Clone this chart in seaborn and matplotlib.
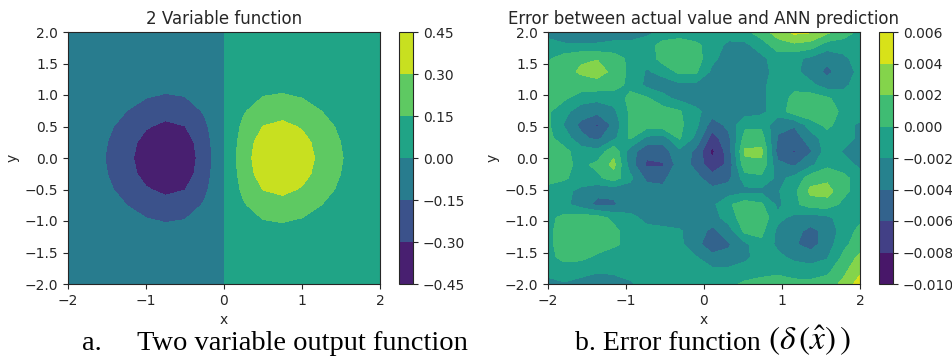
import numpy as np
import matplotlib
matplotlib.use("Agg")
import matplotlib.pyplot as plt
import seaborn as sns

# --- panel a: the two variable function, sampled on a 17 x 17 grid ---
func_x = [-2.0, -1.75, -1.5, -1.25, -1.0, -0.75, -0.5, -0.25, 0.0,
          0.25, 0.5, 0.75, 1.0, 1.25, 1.5, 1.75, 2.0]
func_y = [-2.0, -1.75, -1.5, -1.25, -1.0, -0.75, -0.5, -0.25, 0.0,
          0.25, 0.5, 0.75, 1.0, 1.25, 1.5, 1.75, 2.0]
# rows run from y = -2 (first) to y = 2 (last)
func_z = [
    [-0.001, -0.002, -0.003, -0.005, -0.007, -0.008, -0.007, -0.004, 0.0, 0.004, 0.007, 0.008, 0.007, 0.005, 0.003, 0.002, 0.001],
    [-0.002, -0.004, -0.007, -0.012, -0.017, -0.020, -0.018, -0.011, 0.0, 0.011, 0.018, 0.020, 0.017, 0.012, 0.007, 0.004, 0.002],
    [-0.004, -0.009, -0.017, -0.028, -0.039, -0.045, -0.041, -0.025, 0.0, 0.025, 0.041, 0.045, 0.039, 0.028, 0.017, 0.009, 0.004],
    [-0.008, -0.017, -0.033, -0.055, -0.077, -0.089, -0.082, -0.049, 0.0, 0.049, 0.082, 0.089, 0.077, 0.055, 0.033, 0.017, 0.008],
    [-0.014, -0.030, -0.058, -0.096, -0.135, -0.157, -0.143, -0.086, 0.0, 0.086, 0.143, 0.157, 0.135, 0.096, 0.058, 0.030, 0.014],
    [-0.021, -0.047, -0.090, -0.149, -0.210, -0.243, -0.222, -0.134, 0.0, 0.134, 0.222, 0.243, 0.210, 0.149, 0.090, 0.047, 0.021],
    [-0.029, -0.064, -0.123, -0.204, -0.287, -0.333, -0.303, -0.183, 0.0, 0.183, 0.303, 0.333, 0.287, 0.204, 0.123, 0.064, 0.029],
    [-0.035, -0.077, -0.148, -0.246, -0.346, -0.401, -0.366, -0.221, 0.0, 0.221, 0.366, 0.401, 0.346, 0.246, 0.148, 0.077, 0.035],
    [-0.037, -0.082, -0.158, -0.262, -0.368, -0.427, -0.389, -0.235, 0.0, 0.235, 0.389, 0.427, 0.368, 0.262, 0.158, 0.082, 0.037],
    [-0.035, -0.077, -0.148, -0.246, -0.346, -0.401, -0.366, -0.221, 0.0, 0.221, 0.366, 0.401, 0.346, 0.246, 0.148, 0.077, 0.035],
    [-0.029, -0.064, -0.123, -0.204, -0.287, -0.333, -0.303, -0.183, 0.0, 0.183, 0.303, 0.333, 0.287, 0.204, 0.123, 0.064, 0.029],
    [-0.021, -0.047, -0.090, -0.149, -0.210, -0.243, -0.222, -0.134, 0.0, 0.134, 0.222, 0.243, 0.210, 0.149, 0.090, 0.047, 0.021],
    [-0.014, -0.030, -0.058, -0.096, -0.135, -0.157, -0.143, -0.086, 0.0, 0.086, 0.143, 0.157, 0.135, 0.096, 0.058, 0.030, 0.014],
    [-0.008, -0.017, -0.033, -0.055, -0.077, -0.089, -0.082, -0.049, 0.0, 0.049, 0.082, 0.089, 0.077, 0.055, 0.033, 0.017, 0.008],
    [-0.004, -0.009, -0.017, -0.028, -0.039, -0.045, -0.041, -0.025, 0.0, 0.025, 0.041, 0.045, 0.039, 0.028, 0.017, 0.009, 0.004],
    [-0.002, -0.004, -0.007, -0.012, -0.017, -0.020, -0.018, -0.011, 0.0, 0.011, 0.018, 0.020, 0.017, 0.012, 0.007, 0.004, 0.002],
    [-0.001, -0.002, -0.003, -0.005, -0.007, -0.008, -0.007, -0.004, 0.0, 0.004, 0.007, 0.008, 0.007, 0.005, 0.003, 0.002, 0.001],
]
func_levels = [-0.45, -0.30, -0.15, 0.0, 0.15, 0.30, 0.45]

# --- panel b: error between actual value and ANN prediction, 20 x 20 grid ---
err_x = np.linspace(-2, 2, 20)
err_y = np.linspace(2, -2, 20)
# values in units of 1e-3, rows run from y = 2 (first) to y = -2 (last)
err_milli = [
    [-2.5, -3.0, -3.0, -3.0, -3.0, -3.0, -2.5, -1.5, -1.0, -1.5, -1.5, -1.0, -0.5, 1.0, 3.0, 4.5, 4.2, 2.5, 1.0, -0.5],
    [-1.5, -1.8, -1.8, -1.8, -1.5, -1.5, -1.0, 0.8, 1.0, 0.5, -1.0, -2.5, -2.5, -1.0, 1.0, 1.5, 1.0, -1.0, -1.0, -0.5],
    [-0.3, 1.0, 1.8, 1.9, 1.0, -0.5, -1.5, 1.0, 1.5, 1.0, -1.5, -3.0, -3.0, -2.5, -1.0, -1.5, -2.5, -3.5, -2.5, -1.0],
    [0.5, 1.5, 2.2, 2.8, 1.5, -0.5, -2.2, -1.5, 0.5, 0.3, -2.5, -3.0, -3.0, -2.5, -1.5, -1.5, -3.0, -4.5, -3.0, -1.5],
    [0.5, 1.2, 1.3, 1.2, 0.8, -0.5, -2.5, -2.8, -2.5, -2.5, -3.0, -3.0, -3.0, -2.5, -1.0, -0.5, -1.5, -3.0, -2.5, -1.0],
    [0.5, 0.3, -1.2, -1.5, -1.2, 0.5, 0.3, -1.5, -2.5, -3.0, -3.0, -3.0, -2.5, -2.5, -1.0, 0.5, 1.0, 0.3, -1.0, -0.5],
    [0.3, -1.5, -3.0, -3.5, -2.5, 0.3, 1.0, 1.0, 0.2, -1.5, -3.0, -3.0, -3.0, -2.5, -1.0, 1.0, 1.5, 1.0, -0.5, -0.5],
    [0.3, -2.2, -4.5, -6.3, -3.5, 0.3, 1.0, 1.2, 0.5, -1.5, -5.0, -3.5, -0.5, -0.5, -3.5, -3.8, -1.0, 0.5, -1.0, -2.5],
    [0.5, -1.0, -3.5, -4.5, -2.5, 0.2, -2.5, -3.0, 0.2, -2.5, -7.0, -4.5, 0.8, 0.8, -4.2, -5.0, -3.0, -1.0, -1.0, -2.5],
    [0.5, 0.5, -1.0, -1.5, 1.5, -3.0, -5.5, -5.0, -2.5, -4.5, -8.5, -5.0, 2.3, 2.5, -5.0, -6.2, -4.2, -1.0, -2.2, -3.0],
    [0.3, 0.5, -0.5, 0.5, 2.5, -3.0, -6.3, -6.2, -3.0, -4.5, -7.5, -5.5, 1.5, 1.5, -3.5, -4.3, -2.5, -0.5, -1.0, -2.5],
    [0.5, 0.3, -1.0, -0.5, 1.0, -1.5, -4.5, -4.5, -2.5, -3.5, -5.0, -4.5, -1.0, -0.5, -2.5, -1.5, 1.0, 1.5, 0.5, -1.0],
    [-0.5, -1.5, -2.5, -3.5, -3.5, -3.0, -3.0, -3.5, -3.0, -3.0, -3.5, -3.0, -2.5, -2.5, -2.2, -0.5, 2.5, 2.8, 0.5, -1.0],
    [-1.0, -1.5, -3.0, -4.5, -4.3, -3.0, -2.5, -2.5, -3.0, -3.0, -2.5, -0.3, 1.0, 0.3, -2.5, -0.5, 1.0, 1.0, -0.5, -1.0],
    [-0.5, 0.5, 1.0, 0.8, -0.5, -1.5, -2.5, -3.0, -3.0, -3.0, -3.0, -1.0, 1.0, 1.2, -1.5, -2.5, -3.0, -2.5, -1.0, -0.5],
    [-0.5, 1.0, 1.5, 1.5, 0.5, -1.0, -1.5, -1.5, -1.8, -3.0, -4.5, -3.0, 0.5, 0.5, -2.5, -3.5, -4.5, -3.5, -1.0, 0.5],
    [-0.5, 1.0, 1.5, 1.2, 0.3, -0.5, -1.0, -1.0, -1.5, -3.5, -5.0, -4.2, -2.5, -0.5, -2.5, -3.8, -4.8, -3.0, -0.5, 1.0],
    [-0.5, 0.5, 0.5, -0.5, -1.0, -1.0, -1.0, -1.0, -1.0, -1.8, -3.5, -3.5, -2.5, -1.0, -1.5, -2.5, -3.0, -2.2, 0.5, 2.5],
    [-1.5, -1.0, -1.5, -1.8, -1.8, -1.5, -1.0, -0.8, -0.8, -1.0, -1.5, -1.5, -1.0, -0.5, -0.5, -0.8, -1.0, -0.5, 1.5, 3.5],
    [-2.5, -2.2, -2.5, -3.0, -2.5, -2.2, -1.5, -0.5, -0.5, -1.0, -1.0, -0.5, 0.3, 0.5, 1.0, 0.5, 0.5, 1.0, 2.5, 5.0],
]
err_levels = [-0.010, -0.008, -0.006, -0.004, -0.002, 0.0, 0.002, 0.004, 0.006]

caption_a = ["a.", "Two variable output function"]
caption_b = ["b. Error function", r"$(\delta\,(\hat{x})\,)$"]

sns.set_style("ticks")
plt.rcParams["font.family"] = ["DejaVu Sans"]
plt.rcParams["mathtext.fontset"] = "stix"
cmap = sns.color_palette("viridis", as_cmap=True)

fig = plt.figure(figsize=(9.52, 3.6), dpi=100)
W, H = 952, 360


def box(x0, y0, w, h):
    # pixel box (top-left origin) -> figure fraction
    return [x0 / W, 1 - (y0 + h) / H, w / W, h / H]


ax1 = fig.add_axes(box(68, 32, 312, 252))
cax1 = fig.add_axes(box(399, 32, 14, 252))
ax2 = fig.add_axes(box(548, 32, 312, 252))
cax2 = fig.add_axes(box(879, 32, 14, 252))

cs1 = ax1.contourf(func_x, func_y, np.array(func_z), levels=func_levels, cmap=cmap)
cs2 = ax2.contourf(err_x, err_y, np.array(err_milli) * 1e-3, levels=err_levels, cmap=cmap)

ax1.set_title("2 Variable function", fontsize=12)
ax2.set_title("Error between actual value and ANN prediction", fontsize=12)

for ax in (ax1, ax2):
    ax.set_xlim(-2, 2)
    ax.set_ylim(-2, 2)
    ax.set_xticks([-2, -1, 0, 1, 2])
    ax.set_yticks([-2.0, -1.5, -1.0, -0.5, 0.0, 0.5, 1.0, 1.5, 2.0])
    ax.set_xlabel("x", fontsize=10)
    ax.set_ylabel("y", fontsize=10)
    ax.tick_params(labelsize=10, length=3.5, width=0.8, direction="out")
    for sp in ax.spines.values():
        sp.set_visible(True)
        sp.set_linewidth(0.8)

cb1 = fig.colorbar(cs1, cax=cax1)
cb1.set_ticks(func_levels)
cb1.set_ticklabels([f"{v:.2f}".replace("-", "\u2212") for v in func_levels])
cb2 = fig.colorbar(cs2, cax=cax2)
cb2.set_ticks(err_levels)
cb2.set_ticklabels([f"{v:.3f}".replace("-", "\u2212") for v in err_levels])
for cb in (cb1, cb2):
    cb.ax.tick_params(labelsize=10, length=3.5, width=0.8)
    cb.outline.set_linewidth(0.8)

# captions under each panel (serif, like the paper)
base = 1 - 350 / H
serif = dict(family="Liberation Serif", va="baseline", ha="left", color="black")
fig.text(82 / W, base, caption_a[0], fontsize=20.5, **serif)
fig.text(137 / W, base, caption_a[1], fontsize=20.5, **serif)
fig.text(575 / W, base, caption_b[0], fontsize=20, **serif)
fig.text(768 / W, base, caption_b[1], fontsize=24, **serif)

fig.savefig("out.png", dpi=100, facecolor="white")
